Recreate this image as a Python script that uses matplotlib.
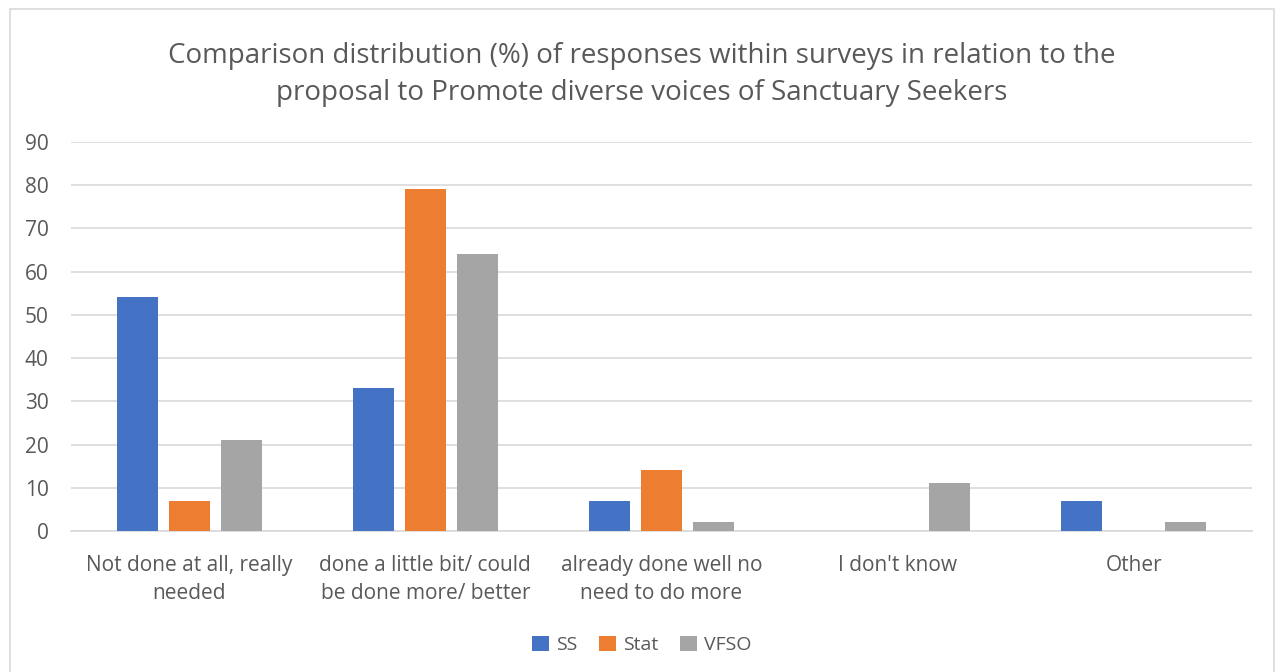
import matplotlib.pyplot as plt
import numpy as np
from matplotlib.patches import Rectangle

plt.rcParams['font.family'] = ['Open Sans', 'DejaVu Sans']

# Survey categories and percentages per group
categories = ['Not done at all, really\nneeded',
              'done a little bit/ could\nbe done more/ better',
              'already done well no\nneed to do more',
              "I don't know",
              'Other']
ss = [54, 33, 7, 0, 7]
stat = [7, 79, 14, 0, 0]
vfso = [21, 64, 2, 11, 2]

series = [('SS', ss, '#4472C4'), ('Stat', stat, '#ED7D31'), ('VFSO', vfso, '#A5A5A5')]

fig = plt.figure(figsize=(12.84, 6.72), dpi=100, facecolor='white')
ax = fig.add_axes([0.0553, 0.2098, 0.9197, 0.5792])

x = np.arange(len(categories))
width = 0.174
step = 0.22
for i, (name, vals, col) in enumerate(series):
    ax.bar(x + (i - 1) * step, vals, width, color=col, label=name, zorder=3)

ax.set_xlim(-0.5, len(categories) - 0.5)
ax.set_ylim(0, 90)
ax.set_yticks(range(0, 91, 10))
ax.set_xticks(x)
ax.set_xticklabels(categories, fontsize=15, color='#595959', linespacing=1.45)
ax.tick_params(axis='y', labelsize=15, labelcolor='#595959', length=0, pad=16)
ax.tick_params(axis='x', length=0, pad=17)
ax.grid(axis='y', color='#D9D9D9', linewidth=1.2, zorder=0)
for s in ['top', 'right', 'left']:
    ax.spines[s].set_visible(False)
ax.spines['bottom'].set_color('#D9D9D9')
ax.spines['bottom'].set_linewidth(1.2)

fig.text(0.5, 0.889, 'Comparison distribution (%) of responses within surveys in relation to the\n'
         'proposal to Promote diverse voices of Sanctuary Seekers',
         ha='center', va='center', fontsize=20, color='#595959', linespacing=1.45)

fig.legend(loc='center', bbox_to_anchor=(0.5, 0.04), ncol=3, frameon=False,
           fontsize=14, labelcolor='#595959', handlelength=0.85, handleheight=0.85,
           handletextpad=0.4, columnspacing=1.1)

# light outer border of the chart area
fig.patches.append(Rectangle((10 / 1284, -0.01), 1264 / 1284, 1 - 9 / 672 + 0.01,
                             transform=fig.transFigure, fill=False,
                             edgecolor='#D9D9D9', linewidth=1.2))

fig.savefig('out.png', dpi=100, facecolor='white')
